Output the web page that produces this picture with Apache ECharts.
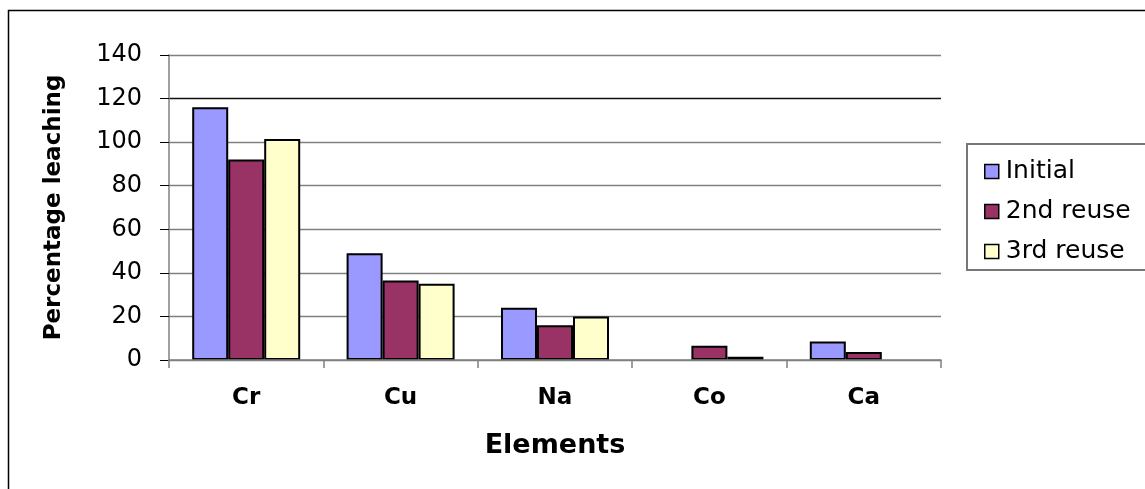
<!DOCTYPE html>
<html>
<head>
<meta charset="utf-8">
<title>Percentage leaching by element</title>
<script src="https://cdn.jsdelivr.net/npm/echarts@6/dist/echarts.min.js"></script>
<style>
  html, body { margin: 0; padding: 0; background: #fff; }
  #chart { width: 1145px; height: 489px; }
</style>
</head>
<body>
<div id="chart"></div>
<script>
// Elements on the category axis
const elements = ['Cr', 'Cu', 'Na', 'Co', 'Ca'];

// Percentage leaching per catalyst run (0 = no leaching detected)
const initialRun = [116, 49, 24, 0, 8.5];
const secondReuse = [92, 36.5, 16, 6.5, 3.7];
const thirdReuse = [101.5, 35, 20, 1.5, 0];

const seriesNames = ['Initial', '2nd reuse', '3rd reuse'];
const seriesColors = ['#9999FF', '#993366', '#FFFFCC'];

// Value axis range
const yMin = 0;
const yMax = 140;
const yStep = 20;

const font = 'DejaVu Sans';

const chart = echarts.init(document.getElementById('chart'), null, { renderer: 'canvas' });

function barSeries(name, values, color) {
  return {
    name: name,
    type: 'bar',
    // a zero reading has no bar at all, not even an outline on the axis
    data: values.map(v => (v === 0 ? null : v)),
    barWidth: 36,
    barGap: '0%',
    itemStyle: { color: color, borderColor: '#000', borderWidth: 2 },
    emphasis: { disabled: true }
  };
}

chart.setOption({
  animation: false,
  backgroundColor: '#fff',
  graphic: [
    {
      type: 'rect',
      shape: { x: 8.5, y: 10.5, width: 1300, height: 700 },
      style: { fill: 'none', stroke: '#000', lineWidth: 1.5 },
      silent: true
    },
    {
      type: 'rect',
      shape: { x: 967, y: 144, width: 300, height: 126 },
      style: { fill: 'none', stroke: '#777', lineWidth: 2 },
      silent: true
    }
  ],
  grid: { left: 169, right: 204, top: 55, bottom: 129, containLabel: false },
  legend: {
    orient: 'vertical',
    left: 979,
    top: 154,
    itemWidth: 14,
    itemHeight: 14,
    itemGap: 15,
    icon: 'rect',
    selectedMode: false,
    itemStyle: { borderWidth: 1.5 },
    textStyle: { fontFamily: font, fontSize: 25, color: '#000', padding: [0, 0, 0, 2] },
    data: seriesNames
  },
  xAxis: {
    type: 'category',
    data: elements,
    name: 'Elements',
    nameLocation: 'middle',
    nameGap: 72,
    nameTextStyle: { fontFamily: font, fontSize: 27, fontWeight: 'bold', color: '#000' },
    axisLine: { show: true, lineStyle: { color: '#808080', width: 1.5 } },
    axisTick: { show: true, length: 8, lineStyle: { color: '#808080', width: 1.5 } },
    axisLabel: { margin: 27, fontFamily: font, fontSize: 23, fontWeight: 'bold', color: '#000' },
    z: 5
  },
  yAxis: {
    type: 'value',
    min: yMin,
    max: yMax,
    interval: yStep,
    name: 'Percentage leaching',
    nameLocation: 'middle',
    nameGap: 103,
    nameTextStyle: { fontFamily: font, fontSize: 23, fontWeight: 'bold', color: '#000' },
    axisLine: { show: true, lineStyle: { color: '#808080', width: 1.5 } },
    axisTick: { show: true, length: 9, lineStyle: { color: '#000', width: 1 } },
    axisLabel: { margin: 27, fontFamily: font, fontSize: 24, color: '#000' },
    splitLine: {
      show: true,
      lineStyle: {
        color: ['#808080', '#808080', '#808080', '#808080', '#808080', '#808080', '#111', '#808080'],
        width: 1.3
      }
    }
  },
  series: [
    barSeries(seriesNames[0], initialRun, seriesColors[0]),
    barSeries(seriesNames[1], secondReuse, seriesColors[1]),
    barSeries(seriesNames[2], thirdReuse, seriesColors[2])
  ]
});
</script>
</body>
</html>
